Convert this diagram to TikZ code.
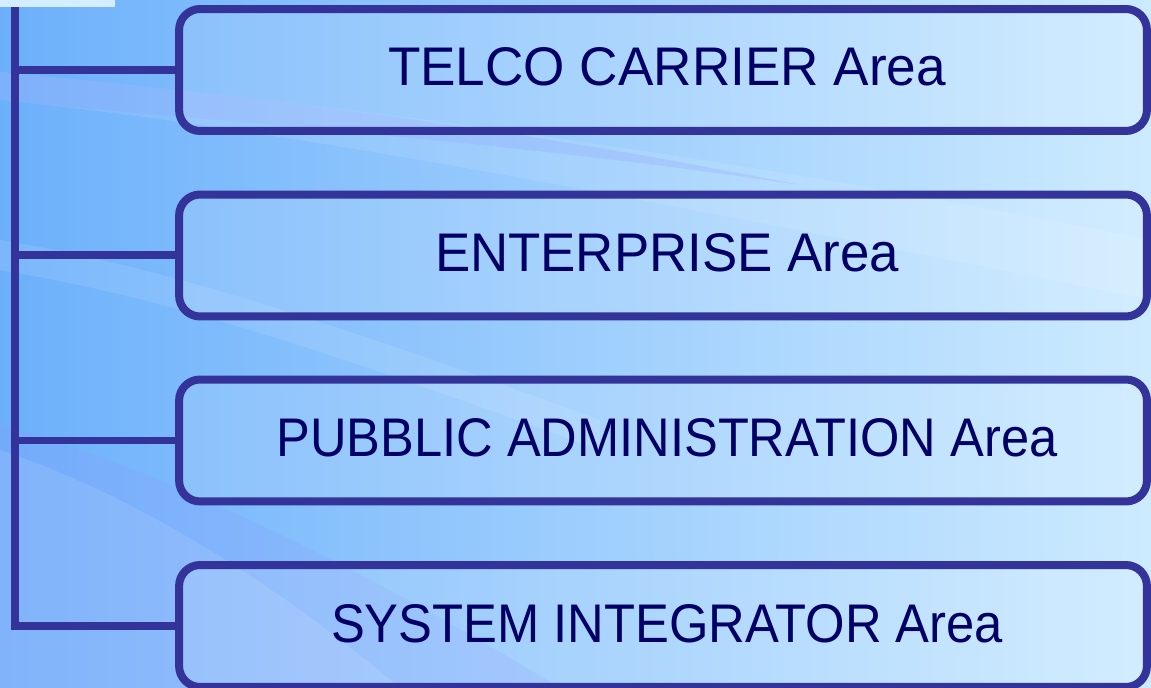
\documentclass[tikz,border=0pt]{standalone}
\usepackage{fontspec}
\setmainfont{Liberation Sans}
\definecolor{bgL}{HTML}{6CB0FB}
\definecolor{bgR}{HTML}{CDEBFF}
\definecolor{edgeblue}{HTML}{333399}
\definecolor{ink}{HTML}{000066}
\definecolor{lav}{HTML}{8C9CFF}
\definecolor{topbar}{HTML}{D4EEFF}
\newcommand\boxlabel[2]{\kern0.16cm\raisebox{0.12cm}{\resizebox{#1}{0.76cm}{#2}}}
\tikzset{
  areabox/.style={draw=edgeblue, line width=0.16cm, rounded corners=0.42cm,
    fill=white, fill opacity=0.12, text opacity=1, text=ink,
    minimum width=19.36cm, minimum height=2.44cm, inner sep=0pt, outer sep=0pt},
  conn/.style={draw=edgeblue, line width=0.16cm, line join=miter},
}
\begin{document}
\begin{tikzpicture}[x=0.02cm,y=-0.02cm]
\useasboundingbox (0,0) rectangle (1151,688);
% background
\fill[left color=bgL, right color=bgR] (0,0) rectangle (1151,688);
% swooshes
\fill[white, opacity=0.10] (0,72) .. controls (300,100) and (700,150) .. (1151,240)
  -- (1151,300) .. controls (700,210) and (300,130) .. (0,100) -- cycle;
\fill[lav, opacity=0.22] (0,72) .. controls (250,96) and (500,125) .. (800,185)
  .. controls (500,140) and (250,125) .. (0,100) -- cycle;
\fill[white, opacity=0.10] (0,240) .. controls (150,265) and (300,310) .. (600,420)
  -- (600,450) .. controls (300,340) and (150,295) .. (0,270) -- cycle;
\fill[lav, opacity=0.22] (0,425) .. controls (150,465) and (350,560) .. (560,688)
  -- (0,688) -- cycle;
\fill[white, opacity=0.10] (0,450) .. controls (120,490) and (260,570) .. (400,688)
  -- (0,688) -- cycle;
% boxes
\node[areabox] (b1) at (663,70) {\boxlabel{11.16cm}{TELCO CARRIER Area}};
\node[areabox] (b2) at (663,255.5) {\boxlabel{9.28cm}{ENTERPRISE Area}};
\node[areabox] (b3) at (663,440.5) {\boxlabel{15.62cm}{PUBBLIC ADMINISTRATION Area}};
\node[areabox] (b4) at (663,626) {\boxlabel{13.44cm}{SYSTEM INTEGRATOR Area}};
% connectors
\coordinate (spine) at (15,-10);
\draw[conn] (spine) |- (b4.west);
\draw[conn] (spine |- b1.west) -- (b1.west);
\draw[conn] (spine |- b2.west) -- (b2.west);
\draw[conn] (spine |- b3.west) -- (b3.west);
% top-left bar
\fill[topbar] (0,-2) rectangle (115,7);
\end{tikzpicture}
\end{document}
